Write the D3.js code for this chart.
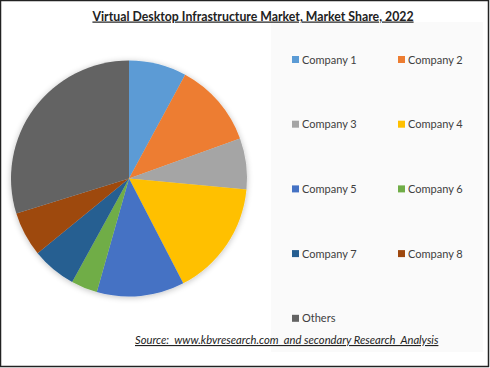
<!DOCTYPE html>
<html><head><meta charset="utf-8">
<script src="https://cdn.jsdelivr.net/npm/d3@7"></script>
<style>body{margin:0;background:#fff}svg{display:block}text{font-family:Lato,"Open Sans",sans-serif}</style>
</head><body>
<svg id="c" width="490" height="368"></svg>
<script>
const categories = ["Company 1","Company 2","Company 3","Company 4","Company 5","Company 6","Company 7","Company 8","Others"];
const shares = [7.9, 11.6, 7.0, 15.9, 12.0, 3.6, 6.1, 6.1, 29.8];
const colors = ["#5B9BD5","#ED7D31","#A5A5A5","#FFC000","#4472C4","#70AD47","#255E91","#9E480E","#636363"];
const titleText = "Virtual Desktop Infrastructure Market, Market Share, 2022";
const sourceText = "Source:  www.kbvresearch.com  and secondary Research  Analysis";

const svg = d3.select("#c");
svg.append("rect").attr("x",0.5).attr("y",0.5).attr("width",488).attr("height",366).attr("fill","#fff").attr("stroke","#222").attr("stroke-width",1.5);
svg.append("rect").attr("x",271).attr("y",22).attr("width",212).attr("height",330).attr("fill","#fafafa");

const defs = svg.append("defs");
const f = defs.append("filter").attr("id","sh").attr("x","-20%").attr("y","-20%").attr("width","140%").attr("height","140%");
f.append("feGaussianBlur").attr("in","SourceAlpha").attr("stdDeviation",3);
f.append("feOffset").attr("dx",0).attr("dy",1).attr("result","b");
f.append("feComponentTransfer").append("feFuncA").attr("type","linear").attr("slope",0.25);
const m = f.append("feMerge"); m.append("feMergeNode"); m.append("feMergeNode").attr("in","SourceGraphic");

const color = d3.scaleOrdinal().domain(categories).range(colors);
const pie = d3.pie().sort(null).value(d=>d.v);
const data = categories.map((c,i)=>({c, v:shares[i]}));
const arc = d3.arc().innerRadius(0).outerRadius(118);
const g = svg.append("g").attr("transform","translate(129,178.5)").attr("filter","url(#sh)");
g.selectAll("path").data(pie(data)).join("path").attr("d",arc).attr("fill",d=>color(d.data.c));

svg.append("text").attr("x",253).attr("y",20.5).attr("text-anchor","middle").attr("font-size",12.3).attr("font-weight","bold")
  .attr("fill","#222").attr("text-decoration","underline").text(titleText);

const lg = svg.append("g");
const items = lg.selectAll("g").data(categories).join("g")
  .attr("transform",(d,i)=>`translate(${i%2===0?292:398},${59.5+Math.floor(i/2)*64.7})`);
items.append("rect").attr("x",0).attr("y",-3.5).attr("width",7).attr("height",7).attr("fill",d=>color(d));
items.append("text").attr("x",10).attr("y",4).attr("font-size",11).attr("fill","#404040").text(d=>d);

svg.append("text").attr("x",135).attr("y",344).attr("font-size",11.2).attr("font-style","italic")
  .style("white-space","pre")
  .attr("fill","#222").attr("text-decoration","underline").text(sourceText);
</script>
</body></html>
